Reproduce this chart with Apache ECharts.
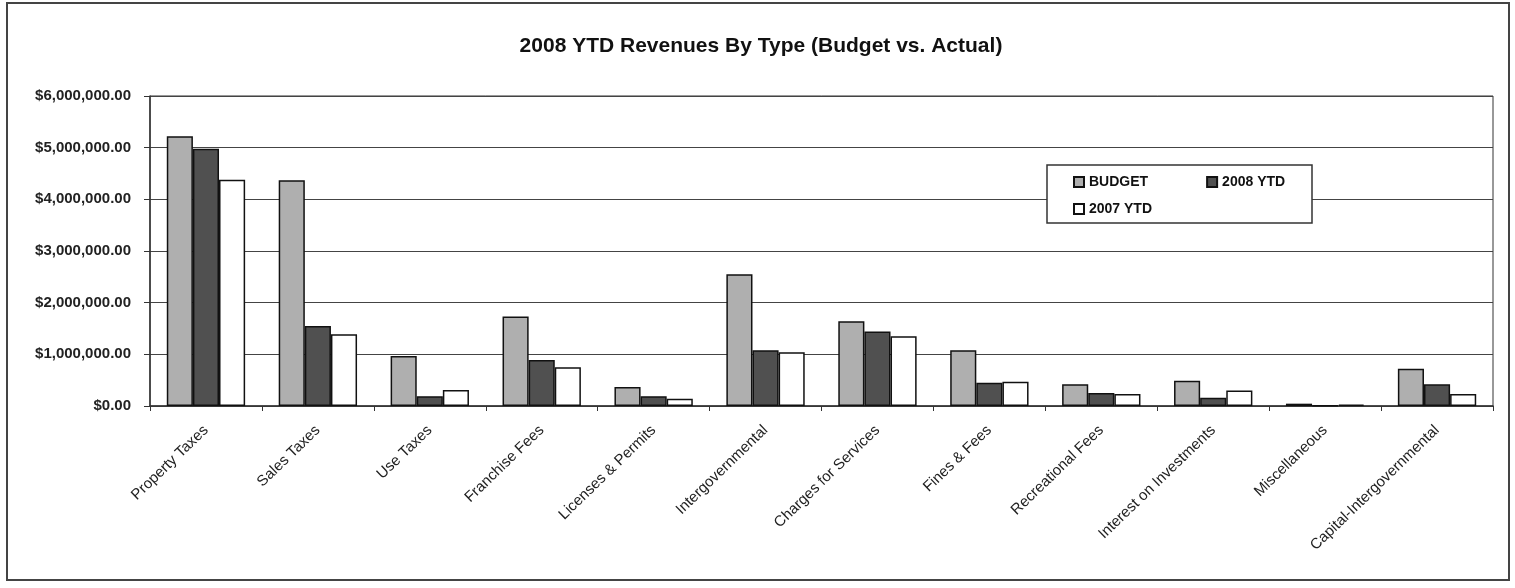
<!DOCTYPE html>
<html>
<head>
<meta charset="utf-8">
<script src="https://cdn.jsdelivr.net/npm/echarts@6/dist/echarts.min.js"></script>
<style>
html,body{margin:0;padding:0;background:#fff;}
#chart{width:1515px;height:588px;}
</style>
</head>
<body>
<div id="chart"></div>
<script>
var categories = ['Property Taxes','Sales Taxes','Use Taxes','Franchise Fees','Licenses & Permits','Intergovernmental','Charges for Services','Fines & Fees','Recreational Fees','Interest on Investments','Miscellaneous','Capital-Intergovernmental'];
var budget  = [5220000, 4370000, 970000, 1730000, 370000, 2550000, 1640000, 1080000, 420000, 490000, 45000, 720000];
var ytd2008 = [4980000, 1550000, 190000, 890000, 190000, 1080000, 1440000, 450000, 250000, 160000, 8000, 420000];
var ytd2007 = [4380000, 1390000, 310000, 750000, 140000, 1040000, 1350000, 470000, 230000, 300000, 25000, 230000];
var yTicks = [0, 1000000, 2000000, 3000000, 4000000, 5000000, 6000000];

var chart = echarts.init(document.getElementById('chart'), null, {renderer:'canvas'});
var font = 'Arial, "Liberation Sans", sans-serif';
function money(v){
  return '$' + v.toLocaleString('en-US',{minimumFractionDigits:2, maximumFractionDigits:2});
}
var barBorder = {borderColor:'#111', borderWidth:1.5};
chart.setOption({
  animation:false,
  backgroundColor:'#fff',
  title:{
    text:'2008 YTD Revenues By Type (Budget vs. Actual)',
    left:756, top:31, textAlign:'center',
    textStyle:{fontFamily:font, fontSize:21, fontWeight:'bold', color:'#111'}
  },
  graphic:[
    {type:'rect', shape:{x:7, y:3, width:1502, height:577}, style:{fill:'none', stroke:'#444', lineWidth:2}, z:1},
    {type:'rect', shape:{x:1047, y:165, width:265, height:58}, style:{fill:'#fff', stroke:'#333', lineWidth:1.5}, z:10}
  ],
  legend:[
    {data:['BUDGET','2008 YTD'], left:1073, top:175, padding:0, itemWidth:10, itemHeight:10, itemGap:58, icon:'rect',
     selectedMode:false, z:20, textStyle:{fontFamily:font, fontSize:14, fontWeight:'bold', color:'#111'}},
    {data:['2007 YTD'], left:1073, top:202, padding:0, itemWidth:10, itemHeight:10, icon:'rect',
     selectedMode:false, z:20, textStyle:{fontFamily:font, fontSize:14, fontWeight:'bold', color:'#111'}}
  ],
  grid:{left:150, right:22, top:96, bottom:182, show:true, borderColor:'#333', borderWidth:1, backgroundColor:'transparent'},
  xAxis:{
    type:'category', data:categories,
    axisLine:{lineStyle:{color:'#333', width:1.5}},
    axisTick:{show:true, length:5, lineStyle:{color:'#333'}},
    axisLabel:{interval:0, rotate:44, margin:22, fontFamily:font, fontSize:15, color:'#222'}
  },
  yAxis:{
    type:'value', min:yTicks[0], max:yTicks[yTicks.length-1], interval:yTicks[1]-yTicks[0],
    axisLine:{show:true, lineStyle:{color:'#333', width:1.5}},
    axisTick:{show:true, length:6, lineStyle:{color:'#333'}},
    splitLine:{lineStyle:{color:'#444', width:1.2}},
    axisLabel:{margin:19, formatter:money, fontFamily:font, fontSize:15, fontWeight:'bold', color:'#222'}
  },
  series:[
    {name:'BUDGET', type:'bar', data:budget, barGap:'0%', barCategoryGap:'30%',
     itemStyle:Object.assign({color:'#afafaf'}, barBorder)},
    {name:'2008 YTD', type:'bar', data:ytd2008,
     itemStyle:Object.assign({color:'#505050'}, barBorder)},
    {name:'2007 YTD', type:'bar', data:ytd2007,
     itemStyle:Object.assign({color:'#fff'}, barBorder)}
  ]
});
</script>
</body>
</html>
